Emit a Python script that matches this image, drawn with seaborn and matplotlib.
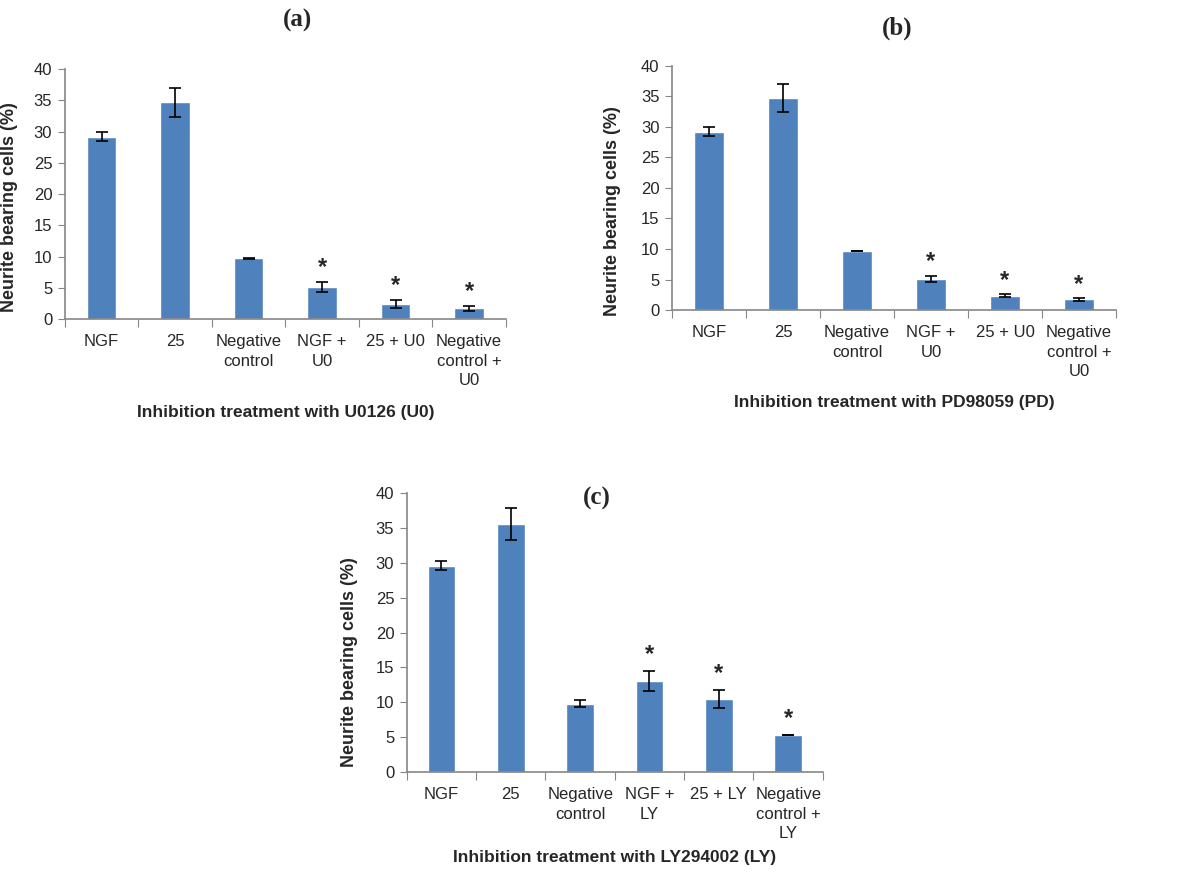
import matplotlib
matplotlib.use("Agg")
import matplotlib.pyplot as plt
import seaborn as sns
import pandas as pd

sns.set_style("white")
plt.rcParams['font.family'] = ['Liberation Sans', 'DejaVu Sans']

# data
labels_u0 = ["NGF", "25", "Negative\ncontrol", "NGF +\nU0", "25 + U0", "Negative\ncontrol +\nU0"]
labels_ly = ["NGF", "25", "Negative\ncontrol", "NGF +\nLY", "25 + LY", "Negative\ncontrol +\nLY"]

vals_a = [29.2, 34.7, 9.7, 5.1, 2.4, 1.75]
err_a = [0.7, 2.3, 0.05, 0.85, 0.65, 0.4]
vals_b = [29.2, 34.7, 9.7, 5.1, 2.35, 1.75]
err_b = [0.75, 2.3, 0.05, 0.5, 0.2, 0.2]
vals_c = [29.6, 35.6, 9.8, 13.1, 10.5, 5.3]
err_c = [0.7, 2.3, 0.5, 1.45, 1.3, 0.05]
signif = [False, False, False, True, True, True]

BAR = "#4F81BD"
AXIS = "#868686"

fig = plt.figure(figsize=(12, 8.74), dpi=100)


def panel(rect, labels, vals, errs, ylab_xy):
    ax = fig.add_axes(rect)
    df = pd.DataFrame({"group": labels, "value": vals})
    sns.barplot(data=df, x="group", y="value", color=BAR, width=0.4,
                saturation=1, errorbar=None, ax=ax)
    ax.errorbar(range(len(vals)), vals, yerr=errs, fmt="none", ecolor="black",
                elinewidth=1.2, capsize=4, capthick=1.2)
    for i, (v, e, s) in enumerate(zip(vals, errs, signif)):
        if s:
            ax.text(i, v + e + 2.3, "*", ha="center", va="center",
                    fontsize=17, fontweight="bold")
    ax.set_ylim(0, 40)
    ax.set_xlim(-0.5, len(vals) - 0.5)
    ax.set_yticks(range(0, 41, 5))
    ax.tick_params(axis="y", labelsize=12, length=5, color=AXIS,
                   direction="out", left=True, pad=4)
    # ticks between categories, labels at the centres
    ax.set_xticks([i + 0.5 for i in range(-1, len(vals))])
    ax.set_xticklabels([])
    ax.set_xticks(range(len(vals)), minor=True)
    ax.set_xticklabels(labels, minor=True, fontsize=12, linespacing=1.38)
    ax.tick_params(axis="x", which="major", length=6, color=AXIS,
                   direction="out", bottom=True)
    ax.tick_params(axis="x", which="minor", length=0, pad=11)
    for side in ["top", "right"]:
        ax.spines[side].set_visible(False)
    for side in ["left", "bottom"]:
        ax.spines[side].set_color(AXIS)
        ax.spines[side].set_linewidth(1.2)
    ax.set_xlabel("")
    ax.set_ylabel("Neurite bearing cells (%)", fontsize=13, fontweight="bold")
    ax.yaxis.set_label_coords(*ylab_xy)
    return ax


ax_a = panel([0.054, 0.635, 0.3675, 0.286], labels_u0, vals_a, err_a, (-0.107, 0.448))
ax_b = panel([0.560, 0.6453, 0.370, 0.2792], labels_u0, vals_b, err_b, (-0.115, 0.406))
ax_c = panel([0.339, 0.1167, 0.3467, 0.3192], labels_ly, vals_c, err_c, (-0.118, 0.394))

for x, y, t in [(0.248, 0.977, "(a)"), (0.748, 0.968, "(b)"), (0.4975, 0.430, "(c)")]:
    fig.text(x, y, t, ha="center", va="center", fontsize=18, fontweight="bold",
             family="Liberation Serif")

for ax, y, t in [(ax_a, 0.5275, "Inhibition treatment with U0126 (U0)"),
                 (ax_b, 0.539, "Inhibition treatment with PD98059 (PD)"),
                 (ax_c, 0.019, "Inhibition treatment with LY294002 (LY)")]:
    pos = ax.get_position()
    fig.text((pos.x0 + pos.x1) / 2, y, t, ha="center", va="center",
             fontsize=12.5, fontweight="bold")

fig.savefig("out.png", dpi=100)
